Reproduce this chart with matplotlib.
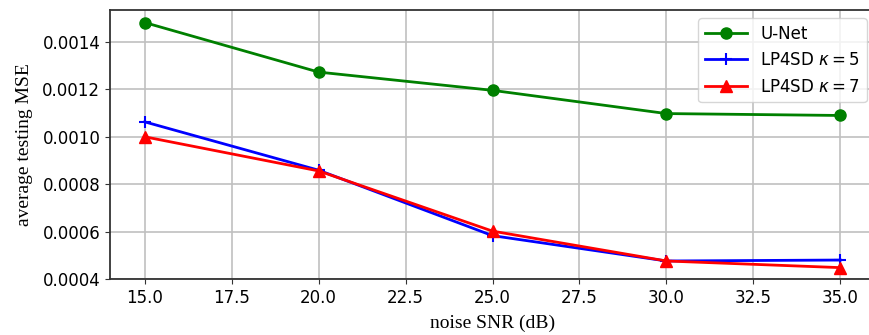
import numpy as np
import matplotlib
matplotlib.use("Agg")
import matplotlib.pyplot as plt

snr = [15, 20, 25, 30, 35]
unet = [0.001482, 0.001273, 0.001196, 0.001098, 0.001090]
lp4sd_k5 = [0.001063, 0.000859, 0.000583, 0.000476, 0.000480]
lp4sd_k7 = [0.001000, 0.000856, 0.000602, 0.000476, 0.000448]

fig = plt.figure(figsize=(8.69, 3.35), dpi=100)
ax = fig.add_axes([110 / 869, 56 / 335, 765 / 869, 269 / 335])

ax.plot(snr, unet, 'o-', color='green', lw=2, ms=8, label='U-Net')
ax.plot(snr, lp4sd_k5, '+-', color='blue', lw=2, ms=9, mew=1.5, label=r'LP4SD $\kappa = 5$')
ax.plot(snr, lp4sd_k7, '^-', color='red', lw=2, ms=9, label=r'LP4SD $\kappa = 7$')

ax.set_xlim(14, 36)
ax.set_ylim(0.0004, 0.001535)
ax.set_xticks(np.arange(15, 35.1, 2.5))
ax.set_yticks(np.arange(0.0004, 0.00141, 0.0002))
ax.yaxis.set_major_formatter(matplotlib.ticker.FormatStrFormatter('%.4f'))
ax.tick_params(labelsize=12, color='#333333')
ax.grid(True, color='#c0c0c0', lw=1.2)
for s in ax.spines.values():
    s.set_color('#333333')
    s.set_linewidth(1.3)

ax.set_xlabel('noise SNR (dB)', family='Liberation Serif', fontsize=14, labelpad=6)
ax.set_ylabel('average testing MSE', family='Liberation Serif', fontsize=14, labelpad=7)
ax.legend(loc='upper right', fontsize=12, handlelength=2.5)

fig.savefig('out.png', dpi=100)
